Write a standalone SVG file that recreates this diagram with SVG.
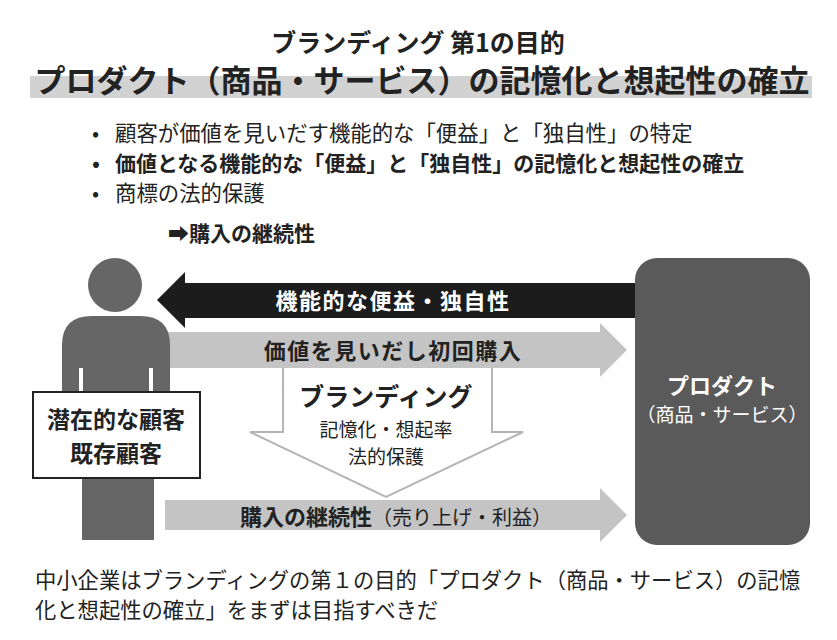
<svg xmlns="http://www.w3.org/2000/svg" width="837" height="640" viewBox="0 0 837 640">
<style>
text{font-family:"Noto Sans CJK JP","Noto Sans",sans-serif;fill:#222}
.b{font-weight:bold}
.g{fill:#c4c4c4}
</style>
<rect width="837" height="640" fill="#fff"/>
<g id="title">
<text x="418" y="52" font-size="25" class="b" text-anchor="middle">ブランディング 第1の目的</text>
<rect x="30" y="76" width="782" height="22" fill="#d2d2d2"/>
<text x="422" y="92" font-size="31" class="b" text-anchor="middle">プロダクト（商品・サービス）の記憶化と想起性の確立</text>
</g>
<g id="bullets">
<text x="92" y="141" font-size="21">•</text><text x="115" y="141" font-size="21.4">顧客が価値を見いだす機能的な「便益」と「独自性」の特定</text>
<text x="92" y="171" font-size="21" class="b">•</text><text x="115" y="171" font-size="21" class="b">価値となる機能的な「便益」と「独自性」の記憶化と想起性の確立</text>
<text x="92" y="201" font-size="21">•</text><text x="115" y="201" font-size="21.4">商標の法的保護</text>
<text x="168" y="241" font-size="21" class="b">➡購入の継続性</text>
</g>
<g id="connectors">
<path d="M165,332 H600 V323 L627,350 L600,377 V368 H165 Z" class="g"/>
<path d="M165,500 H600 V488 L627,515 L600,542 V530 H165 Z" class="g"/>
<path d="M283,368 V432 H250 L386,497 L523,432 H492 V368" fill="#fff" stroke="#b5b5b5" stroke-width="2"/>
<path d="M640,283 H185 V272 L157,300 L185,328 V318 H640 Z" fill="#1c1c1c"/>
<text x="393" y="309" font-size="22" class="b" text-anchor="middle" letter-spacing="1.5" style="fill:#fff">機能的な便益・独自性</text>
<text x="393" y="359" font-size="22" class="b" text-anchor="middle" letter-spacing="1.5">価値を見いだし初回購入</text>
<text x="240" y="525" font-size="22" class="b">購入の継続性<tspan font-weight="normal" font-size="20">（売り上げ・利益）</tspan></text>
<text x="386" y="406" font-size="25" class="b" text-anchor="middle">ブランディング</text>
<text x="386" y="437" font-size="19" text-anchor="middle">記憶化・想起率</text>
<text x="386" y="464" font-size="19" text-anchor="middle">法的保護</text>
</g>
<g id="customer">
<circle cx="115" cy="285" r="27" fill="#666"/>
<path d="M62,400 V345 Q62,316 92,316 H140 Q170,316 170,345 V400 Z" fill="#666"/>
<rect x="82" y="395" width="72" height="145" fill="#666"/>
<rect x="79" y="368" width="4" height="30" fill="#fff"/>
<rect x="149" y="368" width="4" height="30" fill="#fff"/>
<rect x="33" y="392" width="167" height="86" fill="#fff" stroke="#222" stroke-width="2"/>
<text x="116" y="428" font-size="23" class="b" text-anchor="middle">潜在的な顧客</text>
<text x="116" y="462" font-size="23" class="b" text-anchor="middle">既存顧客</text>
</g>
<g id="product">
<rect x="635" y="258" width="175" height="287" rx="22" fill="#5a5a5a"/>
<text x="722" y="394" font-size="22" class="b" text-anchor="middle" style="fill:#fff">プロダクト</text>
<text x="722" y="422" font-size="19" text-anchor="middle" style="fill:#fff">（商品・サービス）</text>
</g>
<g id="caption" font-size="21.3">
<text x="35" y="588">中小企業はブランディングの第１の目的「プロダクト（商品・サービス）の記憶</text>
<text x="35" y="618">化と想起性の確立」をまずは目指すべきだ</text>
</g>
</svg>
